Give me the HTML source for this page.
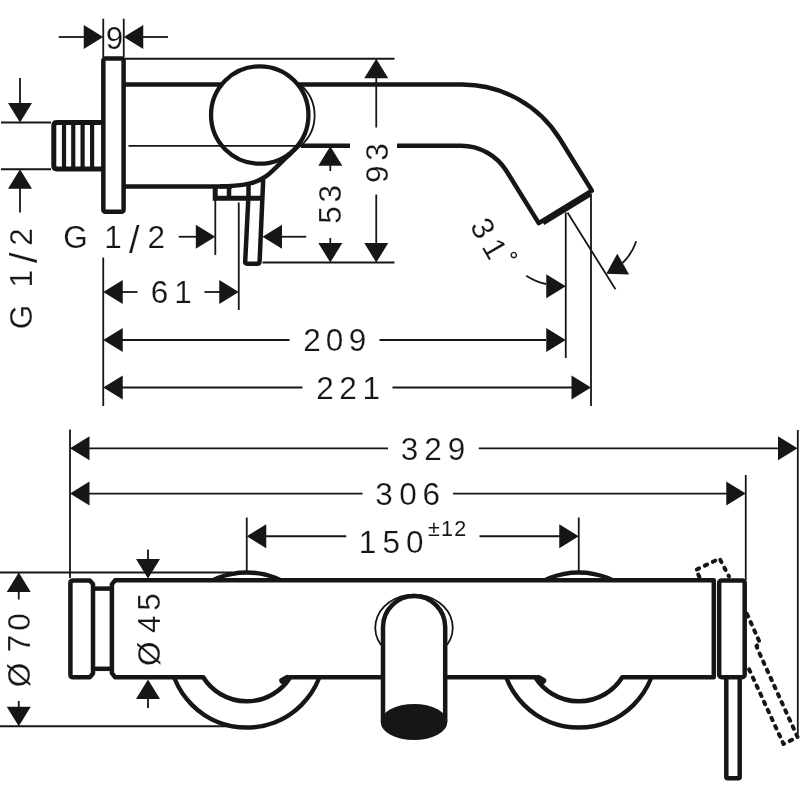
<!DOCTYPE html>
<html lang="en">
<head>
<meta charset="utf-8">
<title>Dimension drawing</title>
<style>
html,body{margin:0;padding:0;background:#fff;}
body{width:800px;height:800px;overflow:hidden;}
svg{display:block;will-change:transform;}
svg text{font-family:"Liberation Sans",sans-serif;fill:#161616;stroke:#fff;stroke-width:0.2px;text-anchor:middle;}
svg text.sup{stroke:none;}
svg .ah{fill:#161616;stroke:none;}
</style>
</head>
<body>
<svg width="800" height="800" viewBox="0 0 800 800" fill="none" stroke="#161616">
<rect x="0" y="0" width="800" height="800" fill="#fff" stroke="none"/>
<line x1="103.25" y1="18.75" x2="103.25" y2="57" stroke-width="1.8" />
<line x1="123.75" y1="18.75" x2="123.75" y2="57" stroke-width="1.8" />
<line x1="125" y1="58.75" x2="394.5" y2="58.75" stroke-width="1.8" />
<line x1="1" y1="122.5" x2="51" y2="122.5" stroke-width="1.8" />
<line x1="1" y1="169.25" x2="51" y2="169.25" stroke-width="1.8" />
<line x1="103.25" y1="257.5" x2="103.25" y2="406" stroke-width="1.8" />
<line x1="215.3" y1="197.5" x2="215.3" y2="255" stroke-width="1.8" />
<line x1="238.75" y1="202.5" x2="238.75" y2="310" stroke-width="1.8" />
<line x1="262.5" y1="262.5" x2="394.5" y2="262.5" stroke-width="1.8" />
<line x1="565.75" y1="212.5" x2="565.75" y2="358" stroke-width="1.8" />
<line x1="591" y1="194" x2="591" y2="406" stroke-width="1.8" />
<line x1="567.5" y1="212.5" x2="615.5" y2="289.25" stroke-width="1.8" />
<line x1="58.75" y1="37" x2="84" y2="37" stroke-width="1.8" />
<polygon class="ah" points="103.25,37.00 83.75,49.00 83.75,25.00"/>
<line x1="143" y1="37" x2="168" y2="37" stroke-width="1.8" />
<polygon class="ah" points="123.75,37.00 143.25,25.00 143.25,49.00"/>
<text x="114.40" y="48.75" font-size="31.5">9</text>
<line x1="20" y1="78" x2="20" y2="103" stroke-width="1.8" />
<polygon class="ah" points="20.00,122.50 8.00,103.00 32.00,103.00"/>
<polygon class="ah" points="20.00,169.25 32.00,188.75 8.00,188.75"/>
<line x1="20" y1="188" x2="20" y2="212.5" stroke-width="1.8" />
<text transform="translate(32,0) rotate(-90)" x="-317.00 -298.00 -278.75 -257.75 -236.90" y="0.00 0.00 0.00 5.00 0.00" font-size="31.5">G 1<tspan font-size="38">/</tspan>2</text>
<polygon class="ah" points="376.25,58.75 388.25,78.25 364.25,78.25"/>
<line x1="376.25" y1="78" x2="376.25" y2="127.5" stroke-width="1.8" />
<line x1="376.25" y1="194.5" x2="376.25" y2="244" stroke-width="1.8" />
<polygon class="ah" points="376.25,262.50 364.25,243.00 388.25,243.00"/>
<text transform="translate(387.5,0) rotate(-90)" x="-174.25 -151.90" y="0.00 0.00" font-size="31.5">93</text>
<polygon class="ah" points="330.30,146.25 342.30,165.75 318.30,165.75"/>
<line x1="330.3" y1="165" x2="330.3" y2="171" stroke-width="1.8" />
<line x1="330.3" y1="238" x2="330.3" y2="244" stroke-width="1.8" />
<polygon class="ah" points="330.30,262.50 318.30,243.00 342.30,243.00"/>
<text transform="translate(341.25,0) rotate(-90)" x="-215.00 -193.75" y="0.00 0.00" font-size="31.5">53</text>
<line x1="178.75" y1="236.75" x2="196" y2="236.75" stroke-width="1.8" />
<polygon class="ah" points="215.30,236.75 195.80,248.75 195.80,224.75"/>
<polygon class="ah" points="262.50,236.75 282.00,224.75 282.00,248.75"/>
<line x1="281" y1="236.75" x2="306.25" y2="236.75" stroke-width="1.8" />
<text x="75.40 94.00 113.00 134.40 156.25" y="247.50 247.50 247.50 252.50 247.50" font-size="31.5">G 1<tspan font-size="38">/</tspan>2</text>
<polygon class="ah" points="103.25,292.00 122.75,280.00 122.75,304.00"/>
<line x1="122" y1="292" x2="137.5" y2="292" stroke-width="1.8" />
<line x1="204.5" y1="292" x2="220" y2="292" stroke-width="1.8" />
<polygon class="ah" points="238.75,292.00 219.25,304.00 219.25,280.00"/>
<text x="159.40 183.00" y="303.00 303.00" font-size="31.5">61</text>
<polygon class="ah" points="103.25,340.00 122.75,328.00 122.75,352.00"/>
<line x1="122" y1="340" x2="289.5" y2="340" stroke-width="1.8" />
<line x1="379.5" y1="340" x2="546" y2="340" stroke-width="1.8" />
<polygon class="ah" points="565.75,340.00 546.25,352.00 546.25,328.00"/>
<text x="311.90 334.60 357.50" y="351.25 351.25 351.25" font-size="31.5">209</text>
<polygon class="ah" points="103.25,387.50 122.75,375.50 122.75,399.50"/>
<line x1="122" y1="387.5" x2="302.5" y2="387.5" stroke-width="1.8" />
<line x1="392.5" y1="387.5" x2="572" y2="387.5" stroke-width="1.8" />
<polygon class="ah" points="591.00,387.50 571.50,399.50 571.50,375.50"/>
<text x="325.00 348.10 371.25" y="398.75 398.75 398.75" font-size="31.5">221</text>
<polygon class="ah" points="565.75,286.25 546.25,298.25 546.25,274.25"/>
<path d="M526.25,275.75 Q537,282.5 546,284" stroke-width="1.8" fill="none" />
<polygon class="ah" points="606.25,273.75 617.28,253.68 629.13,274.55"/>
<path d="M622.5,263 Q632,254 636.25,241.25" stroke-width="1.8" fill="none" />
<text transform="translate(473.7,233.65) rotate(60)" x="0 23.5 38.6" y="0 0 -12" font-size="31.5">31<tspan font-size="22" font-weight="bold">°</tspan></text>
<path d="M103,122.4 H57 Q53.8,122.4 53.8,125.6 V165.8 Q53.8,169 57,169 H103" stroke-width="5.0" fill="none" />
<line x1="64" y1="122.4" x2="64" y2="169.1" stroke-width="4.2" />
<line x1="73.25" y1="122.4" x2="73.25" y2="169.1" stroke-width="4.2" />
<line x1="82.6" y1="122.4" x2="82.6" y2="169.1" stroke-width="4.2" />
<line x1="92.1" y1="122.4" x2="92.1" y2="169.1" stroke-width="4.2" />
<rect x="103.35" y="58.5" width="20.25" height="153.3" rx="2" stroke-width="4.5" fill="#fff"/>
<line x1="125" y1="84.6" x2="440" y2="84.6" stroke-width="4.5" />
<line x1="125" y1="186.6" x2="232" y2="186.6" stroke-width="4.5" />
<path d="M440,84.6 H462.2 A115,115 0 0 1 559.9,139.0 L591.9,190.6 L538.75,223.1 L506.47,171.0 A53.5,53.5 0 0 0 461,145.7 H397" stroke-width="4.5" fill="none" stroke-linejoin="round"/>
<line x1="301" y1="145.7" x2="350" y2="145.7" stroke-width="4.5" />
<path d="M543.5,223.6 L590.5,194.9" stroke-width="3.2" fill="none" />
<path d="M300,144.3 C298.58,145.68 294.33,149.88 291.5,152.6 C288.67,155.32 285.92,157.80 283,160.6 C280.08,163.40 277.00,166.67 274,169.4 C271.00,172.13 268.38,174.83 265,177 C261.62,179.17 257.50,181.08 253.75,182.4 C250.00,183.72 246.25,184.30 242.5,184.9 C238.75,185.50 235.00,185.75 231.25,186 C227.50,186.25 221.88,186.33 220,186.4" stroke-width="4.5" fill="none" />
<path d="M215.2,186.6 V198.2 H262" stroke-width="5" fill="none" />
<line x1="229" y1="186.6" x2="229" y2="198" stroke-width="4.5" />
<line x1="248.5" y1="184" x2="248.5" y2="198" stroke-width="4.5" />
<path d="M263.2,180 L259.6,261.5 Q259.5,263.8 257.5,263.8 L247,263.8 Q245,263.8 245.2,261.5 L248.3,199" stroke-width="4.5" fill="none" stroke-linejoin="round"/>
<path d="M300,84.5 A40,40 0 0 1 301,145.5" stroke-width="1.8" fill="none" />
<circle cx="259.75" cy="115" r="48.7" stroke-width="4.3" fill="#fff"/>
<line x1="128.5" y1="145.8" x2="301" y2="145.8" stroke-width="1.8" />
<line x1="70" y1="429.5" x2="70" y2="578" stroke-width="1.8" />
<line x1="0" y1="572.5" x2="232" y2="572.5" stroke-width="1.8" />
<line x1="0" y1="726.25" x2="236" y2="726.25" stroke-width="1.8" />
<line x1="246.75" y1="517.5" x2="246.75" y2="571" stroke-width="1.8" />
<line x1="578.75" y1="517.5" x2="578.75" y2="571" stroke-width="1.8" />
<line x1="745.75" y1="475" x2="745.75" y2="580" stroke-width="1.8" />
<line x1="797.8" y1="430" x2="797.8" y2="734" stroke-width="1.8" />
<polygon class="ah" points="70.00,448.30 89.50,436.30 89.50,460.30"/>
<line x1="88" y1="448.3" x2="388" y2="448.3" stroke-width="1.8" />
<line x1="478.75" y1="448.3" x2="779" y2="448.3" stroke-width="1.8" />
<polygon class="ah" points="797.50,448.30 778.00,460.30 778.00,436.30"/>
<text x="409.40 433.10 456.60" y="460.00 460.00 460.00" font-size="31.5">329</text>
<polygon class="ah" points="70.00,493.60 89.50,481.60 89.50,505.60"/>
<line x1="88" y1="493.6" x2="362.5" y2="493.6" stroke-width="1.8" />
<line x1="453" y1="493.6" x2="727" y2="493.6" stroke-width="1.8" />
<polygon class="ah" points="745.75,493.60 726.25,505.60 726.25,481.60"/>
<text x="384.10 408.10 431.25" y="504.50 504.50 504.50" font-size="31.5">306</text>
<polygon class="ah" points="246.75,536.25 266.25,524.25 266.25,548.25"/>
<line x1="265" y1="536.25" x2="346.25" y2="536.25" stroke-width="1.8" />
<line x1="479.5" y1="536.25" x2="560" y2="536.25" stroke-width="1.8" />
<polygon class="ah" points="578.75,536.25 559.25,548.25 559.25,524.25"/>
<text x="367.50 391.25 414.70" y="552.50 552.50 552.50" font-size="31.5">150</text>
<text class="sup" x="434.00 447.00 460.30" y="535.60 535.60 535.60" font-size="21.5">±12</text>
<polygon class="ah" points="18.75,572.50 30.75,592.00 6.75,592.00"/>
<line x1="18.75" y1="591" x2="18.75" y2="599.5" stroke-width="1.8" />
<line x1="18.75" y1="701" x2="18.75" y2="708" stroke-width="1.8" />
<polygon class="ah" points="18.75,726.25 6.75,706.75 30.75,706.75"/>
<text transform="translate(30,0) rotate(-90)" x="-675.00 -643.60 -621.90" y="0.00 0.00 0.00" font-size="31.5">Ø70</text>
<circle cx="246.75" cy="650.0" r="77.5" stroke-width="4.5" fill="none"/>
<circle cx="578.75" cy="650.0" r="77.5" stroke-width="4.5" fill="none"/>
<rect x="111.75" y="580" width="602" height="97" fill="#fff" stroke="none"/>
<line x1="287.25" y1="678.0" x2="282.35" y2="680.8" stroke-width="6.2" stroke-linecap="round"/>
<line x1="538.25" y1="678.0" x2="543.15" y2="680.8" stroke-width="6.2" stroke-linecap="round"/>
<path d="M713.8,580.3 H115 L111.9,584.3 V673.2 L115,677.2 H203.25 A51.3,51.3 0 0 0 290.25,677.2 H535.25 A51.3,51.3 0 0 0 622.25,677.2 H713.8 Z" stroke-width="4.5" fill="none" stroke-linejoin="round"/>
<path d="M70.4,583.2 Q70.4,580.4 73.2,580.4 H89.8 L93,584 V673.6 L89.8,677.2 H73.2 Q70.4,677.2 70.4,674.4 Z" stroke-width="4.5" fill="#fff" stroke-linejoin="round"/>
<line x1="94" y1="588.6" x2="110.5" y2="588.6" stroke-width="4.5" />
<line x1="94" y1="668.8" x2="110.5" y2="668.8" stroke-width="4.5" />
<rect x="719.2" y="580.4" width="25.5" height="96.8" rx="2.5" stroke-width="4.5" fill="#fff"/>
<rect x="726.3" y="677.2" width="13.4" height="101" rx="1.5" stroke-width="4.5" fill="#fff"/>
<path d="M699.4,577 L695.9,569.9 L719.6,558.6 L729,576.5" stroke-width="4.0" fill="none" stroke-dasharray="2.6 6.3" stroke-linecap="round" stroke-linejoin="round"/>
<path d="M747,614 L760,643 L756.5,646 L758,650 L797.5,737 L783.5,744 L748.5,668" stroke-width="4.0" fill="none" stroke-dasharray="2.6 6.3" stroke-linecap="round" stroke-linejoin="round"/>
<path d="M383,722 V627.1 A31.1,31.1 0 0 1 445.2,627.1 V722" stroke-width="4.5" fill="#fff" />
<path d="M381,645 A38.75,33.1 0 1 1 447,645" stroke-width="1.8" fill="none" />
<ellipse cx="414" cy="722" rx="33.3" ry="18" fill="#161616" stroke="none"/>
<line x1="148" y1="549.5" x2="148" y2="559" stroke-width="1.8" />
<polygon class="ah" points="148.00,578.50 136.00,559.00 160.00,559.00"/>
<polygon class="ah" points="148.00,679.50 160.00,699.00 136.00,699.00"/>
<line x1="148" y1="698" x2="148" y2="708" stroke-width="1.8" />
<text transform="translate(159.5,0) rotate(-90)" x="-653.75 -624.25 -601.90" y="0.00 0.00 0.00" font-size="31.5">Ø45</text>
</svg>
</body>
</html>
